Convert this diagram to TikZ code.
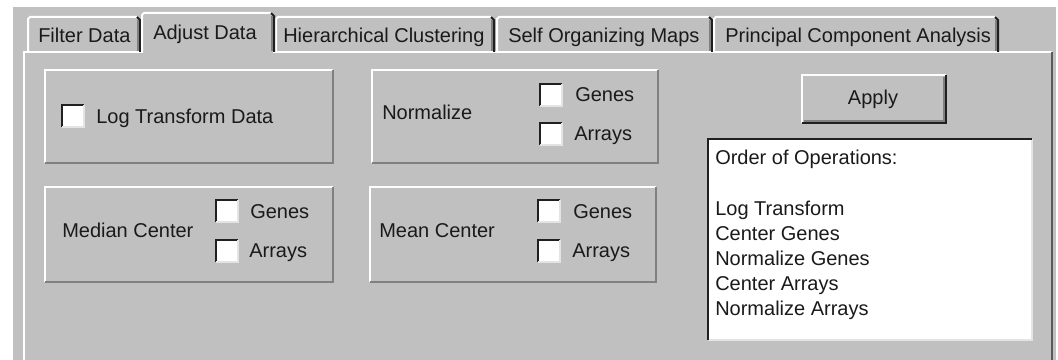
\documentclass[tikz,border=0pt]{standalone}
\usepackage{fontspec}
\setmainfont{Liberation Sans}
\usetikzlibrary{fit}
\definecolor{winbg}{HTML}{C0C0C0}
\definecolor{winsh}{HTML}{808080}
\definecolor{windk}{HTML}{202020}
\definecolor{winlt}{HTML}{E4E4E4}
\definecolor{wintx}{HTML}{1A1A1A}
\newcommand\wframe[3]{%
  \draw[#2, line width=1.5pt] (#1.south west) -- (#1.north west) -- (#1.north east);
  \draw[#3, line width=1.5pt] (#1.north east) -- (#1.south east) -- (#1.south west);}
\begin{document}
\begin{tikzpicture}[x=0.75pt,y=-0.75pt,
  lbl/.style={anchor=base west, inner sep=0pt, font=\fontsize{15}{18}\selectfont, text=wintx},
  clbl/.style={anchor=base, inner sep=0pt, font=\fontsize{15}{18}\selectfont, text=wintx},
  area/.style={inner sep=0pt, outer sep=0pt},
  chk/.style={area, fill=white},
  hl/.style={white, line width=1.5pt},
  sh/.style={winsh, line width=1.5pt},
  dk/.style={windk, line width=1.5pt}]
\useasboundingbox (0,0) rectangle (1058,360);
\fill[white] (0,0) rectangle (1058,360);
\fill[winbg] (13,7) rectangle (1056,360);

% panel border
\draw[hl] (24,360) -- (24,52) -- (1052,52);
\draw[winsh!70!black, line width=1.5pt] (1052,52) -- (1052,360);

% unselected tabs
\foreach \a/\b in {28/140, 276/494, 497/712, 714/998}{
  \draw[hl] (\a,52) -- (\a,19) -- (\a+2,17) -- (\b-3,17);
  \draw[dk] (\b-3,17) -- (\b,20) -- (\b,52);
  \draw[winsh, line width=1pt] (\b-2,20) -- (\b-2,51);
}
% selected tab
\fill[winbg] (143,14) rectangle (273,55);
\draw[hl] (142,53) -- (142,15) -- (144,13) -- (271,13);
\draw[dk] (271,13) -- (274,16) -- (274,52);
\draw[winsh, line width=1pt] (272,16) -- (272,51);

\node[lbl] (tfilter) at (38,43) {Filter Data};
\node[lbl] (tadjust) at (153,40) {Adjust Data};
\node[lbl] (thier) at (283,43) {Hierarchical Clustering};
\node[lbl] (tsom) at (508,43) {Self Organizing Maps};
\node[lbl] (tpca) at (725,43) {Principal Component Analysis};

% group boxes
\node[area, fit={(45,70) (333,163)}] (logbox) {};
\node[area, fit={(372,70) (658,163)}] (normbox) {};
\node[area, fit={(45,187) (333,282)}] (medbox) {};
\node[area, fit={(370,187) (656,282)}] (meanbox) {};
\wframe{logbox}{white}{winsh}
\wframe{normbox}{white}{winsh}
\wframe{medbox}{white}{winsh}
\wframe{meanbox}{white}{winsh}

% checkboxes
\foreach \n/\x/\y in {clog/62/105, cmedg/216/200, cmeda/216/240, cnormg/540/84, cnorma/540/123, cmeang/538/200, cmeana/538/240}{
  \node[chk, fit={(\x,\y) (\x+22,\y+22)}] (\n) {};
  \wframe{\n}{windk}{winlt}
}

\node[lbl] (llog) at (96,123) {Log Transform Data};
\node[lbl] (lnorm) at (382,120) {Normalize};
\node[lbl] (lnormg) at (575,102) {Genes};
\node[lbl] (lnorma) at (574,141) {Arrays};
\node[lbl] (lmed) at (62,238) {Median Center};
\node[lbl] (lmedg) at (250,219) {Genes};
\node[lbl] (lmeda) at (249,257) {Arrays};
\node[lbl] (lmean) at (379,238) {Mean Center};
\node[lbl] (lmeang) at (573,219) {Genes};
\node[lbl] (lmeana) at (572,257) {Arrays};

% apply button
\node[area, fit={(802,75) (946,123)}] (apply) {};
\wframe{apply}{white}{windk}
\draw[winsh, line width=1pt] (944,77) -- (944,121) -- (804,121);
\node[clbl] (lapply) at (873,105) {Apply};

% list box
\node[area, fill=white, fit={(708,139) (1032,340)}] (list) {};
\draw[winlt, line width=2pt] (list.north east) -- (list.south east) -- (list.south west);
\draw[windk, line width=2pt] (list.south west) -- (list.north west) -- (list.north east);
\node[lbl] (o0) at (715,165) {Order of Operations:};
\node[lbl] (o1) at (715,215) {Log Transform};
\node[lbl] (o2) at (715,240) {Center Genes};
\node[lbl] (o3) at (715,265) {Normalize Genes};
\node[lbl] (o4) at (715,290) {Center Arrays};
\node[lbl] (o5) at (715,315) {Normalize Arrays};
\end{tikzpicture}
\end{document}
